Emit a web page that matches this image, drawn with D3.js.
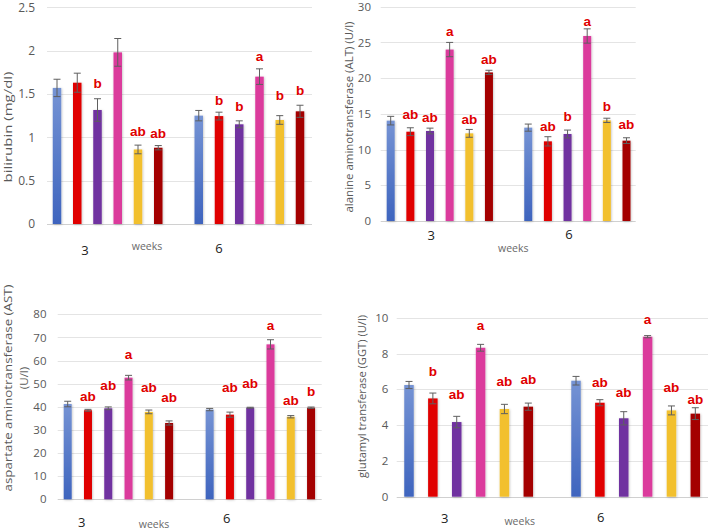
<!DOCTYPE html>
<html>
<head>
<meta charset="utf-8">
<script src="https://cdn.jsdelivr.net/npm/d3@7"></script>
<style>
  body { margin: 0; background: #fff; }
  svg { display: block; font-family: "Open Sans", "Liberation Sans", sans-serif; }
</style>
</head>
<body>
<script>
// groups and weeks
var weeks = ['3', '6'];
var groups = ['g1', 'g2', 'g3', 'g4', 'g5', 'g6'];

// bilirubin (mg/dl)
var biliMean = [[1.57, 1.63, 1.315, 1.98, 0.86, 0.88], [1.25, 1.245, 1.15, 1.70, 1.20, 1.30]];
var biliErr = [[0.10, 0.11, 0.13, 0.16, 0.05, 0.025], [0.06, 0.045, 0.04, 0.09, 0.05, 0.07]];
var biliLetters = [['', '', 'b', '', 'ab', 'ab'], ['', 'b', 'b', 'a', 'b', 'b']];
var biliLetterAt = [[0, 0, 1.62, 0, 1.07, 1.05], [0, 1.43, 1.36, 1.93, 1.49, 1.54]];
var biliTicks = [0, 0.5, 1, 1.5, 2, 2.5];

// ALT (U/l)
var altMean = [[14.05, 12.5, 12.6, 24.0, 12.27, 20.8], [13.07, 11.15, 12.18, 25.9, 14.09, 11.25]];
var altErr = [[0.6, 0.55, 0.4, 1.0, 0.55, 0.3], [0.5, 0.65, 0.55, 1.0, 0.3, 0.4]];
var altLetters = [['', 'ab', 'ab', 'a', 'ab', 'ab'], ['', 'ab', 'b', 'a', 'b', 'ab']];
var altLetterAt = [[0, 14.9, 14.5, 26.6, 14.3, 22.6], [0, 13.2, 14.6, 28.0, 16.1, 13.6]];
var altTicks = [0, 5, 10, 15, 20, 25, 30];

// AST (U/l)
var astMean = [[41.2, 38.5, 39.35, 52.6, 37.8, 33.0], [38.8, 36.6, 39.6, 67.0, 35.7, 39.6]];
var astErr = [[1.2, 0.4, 0.6, 1.0, 0.8, 0.9], [0.5, 1.1, 0.2, 2.0, 0.5, 0.3]];
var astLetters = [['', 'ab', 'ab', 'a', 'ab', 'ab'], ['', 'ab', 'ab', 'a', 'ab', 'b']];
var astLetterAt = [[0, 44.7, 49.2, 62.7, 48.3, 44.1], [0, 48.6, 50.0, 75.4, 43.0, 46.6]];
var astTicks = [0, 10, 20, 30, 40, 50, 60, 70, 80];

// GGT (U/l)
var ggtMean = [[6.24, 5.49, 4.17, 8.32, 4.90, 5.03], [6.48, 5.25, 4.38, 8.94, 4.82, 4.64]];
var ggtErr = [[0.2, 0.3, 0.32, 0.19, 0.26, 0.2], [0.24, 0.17, 0.37, 0.06, 0.25, 0.33]];
var ggtLetters = [['', 'b', 'ab', 'a', 'ab', 'ab'], ['', 'ab', 'ab', 'a', 'ab', 'ab']];
var ggtLetterAt = [[0, 6.98, 5.74, 9.57, 6.46, 6.57], [0, 6.42, 5.83, 9.91, 6.11, 5.47]];
var ggtTicks = [0, 2, 4, 6, 8, 10];

var colors = ['url(#blueGrad)', '#e00000', '#7030a0', '#db3a9c', '#f2c02e', '#a40000'];

var svg = d3.select('body').append('svg').attr('width', 708).attr('height', 530);

var defs = svg.append('defs');
var grad = defs.append('linearGradient').attr('id', 'blueGrad')
  .attr('x1', 0).attr('y1', 0).attr('x2', 0).attr('y2', 1);
grad.append('stop').attr('offset', '0%').attr('stop-color', '#7593d4');
grad.append('stop').attr('offset', '100%').attr('stop-color', '#3e64be');
defs.append('filter').attr('id', 'shadow').attr('x', '-50%').attr('y', '-10%').attr('width', '200%').attr('height', '120%')
  .append('feDropShadow').attr('dx', 0.6).attr('dy', 0.6).attr('stdDeviation', 1)
  .attr('flood-color', '#000').attr('flood-opacity', 0.25);

// panel layout (pixels)
var panels = [
  { mean: biliMean, err: biliErr, letters: biliLetters, letterAt: biliLetterAt, ticks: biliTicks, max: 2.5,
    left: 47, right: 312, top: 7.3, bottom: 224, x0: 57, step: 20.25, barW: 8.5, tickX: 35, tickSize: 12,
    yLabel: ['bilirubin (mg/dl)'], yLabelX: [8], yLabelY: [127], yLabelLen: [111], yLabelSize: 11.5,
    cat: [[85, 255], [219, 253]], weeksAt: [147, 249.5] },
  { mean: altMean, err: altErr, letters: altLetters, letterAt: altLetterAt, ticks: altTicks, max: 30,
    left: 380.7, right: 635.7, top: 6.7, bottom: 221, x0: 390.7, step: 19.65, barW: 8, tickX: 371, tickSize: 11.5,
    yLabel: ['alanine aminotransferase (ALT) (U/l)'], yLabelX: [349], yLabelY: [117], yLabelLen: [191], yLabelSize: 11,
    cat: [[431.3, 240], [569, 239]], weeksAt: [513.3, 251.5] },
  { mean: astMean, err: astErr, letters: astLetters, letterAt: astLetterAt, ticks: astTicks, max: 80,
    left: 57.7, right: 321.7, top: 314.3, bottom: 499.3, x0: 67.7, step: 20.28, barW: 8, tickX: 46.5, tickSize: 11.5,
    yLabel: ['aspartate aminotransferase (AST)', '(U/l)'], yLabelX: [8, 24], yLabelY: [388, 378], yLabelLen: [207, 0], yLabelSize: 11.5,
    cat: [[81.7, 527], [226.7, 523]], weeksAt: [154, 527.5] },
  { mean: ggtMean, err: ggtErr, letters: ggtLetters, letterAt: ggtLetterAt, ticks: ggtTicks, max: 10,
    left: 396.7, right: 708, top: 317.7, bottom: 496.7, x0: 409, step: 23.86, barW: 9.5, tickX: 388.3, tickSize: 11.5,
    yLabel: ['glutamyl transferase (GGT) (U/l)'], yLabelX: [362], yLabelY: [396.5], yLabelLen: [163], yLabelSize: 11,
    cat: [[444.7, 523], [600.7, 521.5]], weeksAt: [519.7, 525] }
];

panels.forEach(function(p) {
  var g = svg.append('g');

  var y = d3.scaleLinear().domain([0, p.max]).range([p.bottom, p.top]);

  var start = p.x0 - p.step / 2;
  var xWeek = d3.scaleBand().domain(weeks).range([start, start + 13 * p.step])
    .paddingInner(1 / 7).paddingOuter(0);
  var pad = 1 - p.barW / p.step;
  var xBar = d3.scaleBand().domain(groups).range([0, xWeek.bandwidth()])
    .paddingInner(pad).paddingOuter(pad / 2);

  // gridlines
  g.selectAll('line.grid').data(p.ticks).enter().append('line')
    .attr('x1', p.left).attr('x2', p.right)
    .attr('y1', function(d) { return Math.round(y(d)) + 0.5; })
    .attr('y2', function(d) { return Math.round(y(d)) + 0.5; })
    .attr('stroke', function(d) { return d === 0 ? '#d0d0d0' : '#e4e4e4'; })
    .attr('stroke-width', 1);

  // tick labels
  var axis = d3.axisLeft(y).tickValues(p.ticks).tickSize(0).tickPadding(0)
    .tickFormat(function(d) { return String(d); });
  var ax = g.append('g').attr('transform', 'translate(' + p.tickX + ',0)').call(axis);
  ax.select('.domain').remove();
  ax.selectAll('text').attr('fill', '#595959').attr('font-size', p.tickSize)
    .attr('font-family', '"Open Sans", "Liberation Sans", sans-serif');

  weeks.forEach(function(w, wi) {
    var gw = g.append('g').attr('transform', 'translate(' + xWeek(w) + ',0)');
    var rows = groups.map(function(k, i) {
      return { k: k, i: i, v: p.mean[wi][i], e: p.err[wi][i], l: p.letters[wi][i], la: p.letterAt[wi][i] };
    });

    gw.selectAll('rect').data(rows).enter().append('rect')
      .attr('x', function(d) { return xBar(d.k); })
      .attr('width', xBar.bandwidth())
      .attr('y', function(d) { return y(d.v); })
      .attr('height', function(d) { return y(0) - y(d.v); })
      .attr('fill', function(d) { return colors[d.i]; })
      .attr('filter', 'url(#shadow)');

    var cx = function(d) { return xBar(d.k) + xBar.bandwidth() / 2; };
    var eb = gw.selectAll('g.err').data(rows).enter().append('g')
      .attr('stroke', '#5f5f5f').attr('stroke-width', 1);
    eb.append('line').attr('x1', cx).attr('x2', cx)
      .attr('y1', function(d) { return y(d.v - d.e); })
      .attr('y2', function(d) { return y(d.v + d.e); });
    [1, -1].forEach(function(s) {
      eb.append('line')
        .attr('x1', function(d) { return cx(d) - 3.5; })
        .attr('x2', function(d) { return cx(d) + 3.5; })
        .attr('y1', function(d) { return y(d.v + s * d.e); })
        .attr('y2', function(d) { return y(d.v + s * d.e); });
    });

    gw.selectAll('text.letter').data(rows.filter(function(d) { return d.l; })).enter().append('text')
      .attr('x', cx).attr('y', function(d) { return y(d.la); })
      .attr('dy', '0.35em')
      .attr('text-anchor', 'middle')
      .attr('font-size', 13.5).attr('font-weight', 'bold')
      .attr('font-family', '"Liberation Sans", Arial, sans-serif')
      .attr('fill', '#e00000')
      .text(function(d) { return d.l; });
  });

  // category labels
  g.selectAll('text.cat').data(weeks).enter().append('text')
    .attr('x', function(d, i) { return p.cat[i][0]; })
    .attr('y', function(d, i) { return p.cat[i][1]; })
    .attr('text-anchor', 'middle').attr('font-size', 13).attr('fill', '#222')
    .text(function(d) { return d; });

  g.append('text').attr('x', p.weeksAt[0]).attr('y', p.weeksAt[1])
    .attr('text-anchor', 'middle').attr('font-size', 10.5).attr('fill', '#6a6a6a')
    .text('weeks');

  // y label
  p.yLabel.forEach(function(t, i) {
    var lab = g.append('text')
      .attr('transform', 'translate(' + p.yLabelX[i] + ',' + p.yLabelY[i] + ') rotate(-90)')
      .attr('dy', '0.35em')
      .attr('text-anchor', 'middle').attr('font-size', p.yLabelSize).attr('fill', '#595959')
      .text(t);
    if (p.yLabelLen[i]) lab.attr('textLength', p.yLabelLen[i]).attr('lengthAdjust', 'spacingAndGlyphs');
  });
});
</script>
</body>
</html>
